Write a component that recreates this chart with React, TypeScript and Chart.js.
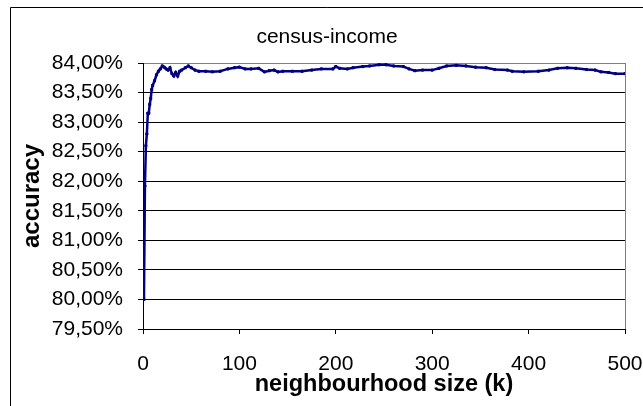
import React, { useEffect, useRef } from 'react';
import { Chart, registerables } from 'chart.js';

Chart.register(...registerables);

const chartTitle = 'census-income';
const xTitle = 'neighbourhood size (k)';
const yTitle = 'accuracy';

const xTickValues = [0, 100, 200, 300, 400, 500];
const yTickValues = [79.5, 80, 80.5, 81, 81.5, 82, 82.5, 83, 83.5, 84];

const kValues = [
  1, 2, 3, 4, 5, 6, 7, 8, 9, 10, 12, 14, 16, 18, 20, 22, 24, 26, 28, 30,
  32, 34, 36, 38, 40, 44, 47, 50, 54, 58, 65, 72, 80, 88, 95, 100, 106, 112,
  120, 126, 131, 136, 140, 145, 155, 165, 175, 185, 197, 200, 204, 212, 218,
  228, 235, 245, 252, 260, 270, 276, 282, 290, 300, 307, 315, 325, 335, 345,
  356, 365, 378, 383, 395, 410, 421, 430, 440, 449, 460, 469, 475, 483, 490,
  500,
];

const accuracy = [
  80.0, 81.92, 82.6, 82.8, 83.15, 83.15, 83.3, 83.4, 83.55, 83.62, 83.7,
  83.8, 83.86, 83.9, 83.95, 83.93, 83.9, 83.88, 83.92, 83.82, 83.78, 83.84,
  83.78, 83.86, 83.88, 83.92, 83.95, 83.92, 83.88, 83.86, 83.86, 83.85,
  83.86, 83.9, 83.92, 83.93, 83.9, 83.9, 83.91, 83.85, 83.87, 83.88, 83.85,
  83.86, 83.86, 83.86, 83.88, 83.9, 83.9, 83.94, 83.91, 83.9, 83.92, 83.94,
  83.95, 83.97, 83.97, 83.95, 83.94, 83.9, 83.87, 83.88, 83.88, 83.91, 83.95,
  83.96, 83.95, 83.93, 83.92, 83.89, 83.88, 83.86, 83.85, 83.86, 83.88,
  83.91, 83.92, 83.91, 83.89, 83.88, 83.85, 83.84, 83.82, 83.82,
];

const FONT = '"Liberation Sans", Arial, sans-serif';

const decorPlugin = {
  id: 'decor',
  beforeDraw(chart: any) {
    const ctx = chart.ctx;
    ctx.save();
    ctx.fillStyle = '#ffffff';
    ctx.fillRect(0, 0, chart.width, chart.height);
    ctx.strokeStyle = '#000000';
    ctx.lineWidth = 1;
    ctx.beginPath();
    ctx.moveTo(10.5, chart.height);
    ctx.lineTo(10.5, 7.5);
    ctx.lineTo(chart.width, 7.5);
    ctx.stroke();
    ctx.restore();
  },
  beforeDatasetsDraw(chart: any) {
    const ctx = chart.ctx;
    const a = chart.chartArea;
    ctx.save();
    ctx.strokeStyle = '#808080';
    ctx.lineWidth = 1;
    ctx.beginPath();
    ctx.moveTo(Math.round(a.right) + 0.5, a.top);
    ctx.lineTo(Math.round(a.right) + 0.5, a.bottom);
    ctx.stroke();
    ctx.restore();
  },
  afterDraw(chart: any) {
    const ctx = chart.ctx;
    ctx.save();
    ctx.fillStyle = '#000000';
    ctx.font = `21px ${FONT}`;
    ctx.textAlign = 'center';
    ctx.textBaseline = 'middle';
    ctx.fillText(chartTitle, 327, 37);
    ctx.restore();
  },
};

export default function App() {
  const canvasRef = useRef<HTMLCanvasElement | null>(null);

  useEffect(() => {
    if (!canvasRef.current) return;
    const points = kValues.map((k, i) => ({ x: k, y: accuracy[i] }));
    const chart = new Chart(canvasRef.current, {
      type: 'line',
      data: {
        datasets: [
          {
            data: points,
            borderColor: '#000080',
            backgroundColor: '#000080',
            borderWidth: 2.5,
            pointStyle: 'rect',
            pointRadius: 1.5,
            pointBorderWidth: 1,
            pointBackgroundColor: '#000080',
            pointBorderColor: '#000080',
            tension: 0,
            fill: false,
          },
        ],
      },
      options: {
        responsive: false,
        animation: false,
        events: [],
        layout: { padding: { top: 63, right: 18, bottom: 0, left: 0 } },
        plugins: {
          legend: { display: false },
          title: { display: false },
          tooltip: { enabled: false },
        },
        scales: {
          x: {
            type: 'linear',
            min: 0,
            max: 500,
            afterBuildTicks: (scale: any) => {
              scale.ticks = xTickValues.map((v) => ({ value: v }));
            },
            afterFit: (scale: any) => {
              scale.height = 77;
              scale.paddingLeft = 0;
              scale.paddingRight = 0;
            },
            grid: {
              drawOnChartArea: false,
              drawTicks: true,
              tickLength: 5,
              color: '#000000',
              tickColor: '#000000',
            },
            border: { display: true, color: '#000000', width: 1 },
            ticks: {
              color: '#000000',
              font: { family: FONT, size: 21 },
              padding: 18,
              maxRotation: 0,
              autoSkip: false,
            },
            title: {
              display: true,
              text: xTitle,
              color: '#000000',
              font: { family: FONT, size: 23.5, weight: 'bold' },
              padding: { top: 0, bottom: 7 },
            },
          },
          y: {
            type: 'linear',
            min: 79.5,
            max: 84,
            afterBuildTicks: (scale: any) => {
              scale.ticks = yTickValues.map((v) => ({ value: v }));
            },
            afterFit: (scale: any) => {
              scale.width = 143;
              scale.paddingTop = 0;
              scale.paddingBottom = 0;
            },
            grid: {
              drawOnChartArea: true,
              drawTicks: true,
              tickLength: 5,
              color: (c: any) =>
                c.tick && Math.abs(c.tick.value - 84) < 1e-6 ? '#808080' : '#000000',
              tickColor: '#000000',
              lineWidth: 1,
            },
            border: { display: true, color: '#000000', width: 1 },
            ticks: {
              color: '#000000',
              font: { family: FONT, size: 21 },
              padding: 15,
              autoSkip: false,
              callback: (v: any) => Number(v).toFixed(2).replace('.', ',') + '%',
            },
            title: {
              display: true,
              text: yTitle,
              color: '#000000',
              font: { family: FONT, size: 24, weight: 'bold' },
              padding: { top: 18, bottom: 0 },
            },
          },
        },
      },
      plugins: [decorPlugin],
    } as any);
    return () => chart.destroy();
  }, []);

  return (
    <div style={{ position: 'fixed', left: 0, top: 0, width: 643, height: 406, background: '#fff' }}>
      <canvas ref={canvasRef} width={643} height={406} style={{ display: 'block', width: 643, height: 406 }} />
    </div>
  );
}
